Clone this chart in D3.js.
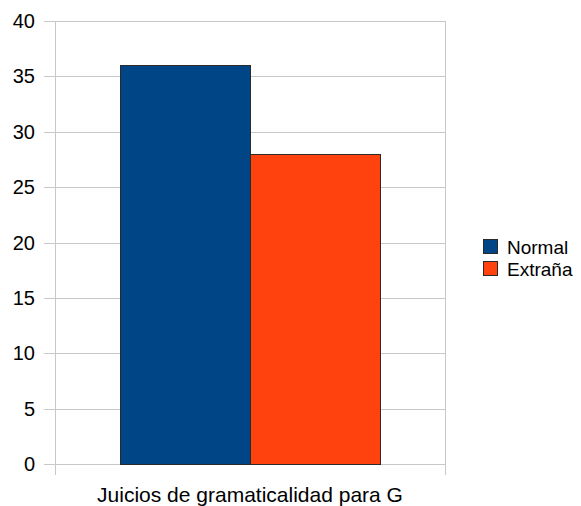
<!DOCTYPE html>
<html>
<head>
<meta charset="utf-8">
<script src="https://cdn.jsdelivr.net/npm/d3@7"></script>
<style>
  body { margin: 0; background: #fff; }
  text { font-family: "Liberation Sans", Arial, sans-serif; fill: #000; }
</style>
</head>
<body>
<div id="chart"></div>
<script>
// data
var categories = ["Juicios de gramaticalidad para G"];
var seriesNames = ["Normal", "Extraña"];
var seriesValues = [[36], [28]];
var colors = ["#004586", "#ff420e"];
var yTicks = [0, 5, 10, 15, 20, 25, 30, 35, 40];

var width = 581, height = 506;
var plotLeft = 55, plotRight = 445, plotTop = 21, plotBottom = 464;

var svg = d3.select("#chart").append("svg")
  .attr("width", width).attr("height", height);

var x = d3.scaleBand().domain(categories).range([plotLeft, plotRight]);
var xs = d3.scaleBand().domain(seriesNames)
  .range([0, x.bandwidth()]).paddingOuter(0.5).paddingInner(0);
var y = d3.scaleLinear().domain([0, 40]).range([plotBottom, plotTop]);

// gridlines
svg.append("g").selectAll("line").data(yTicks).enter().append("line")
  .attr("x1", plotLeft - 11).attr("x2", plotRight)
  .attr("y1", function(d){ return Math.round(y(d)) + 0.5; })
  .attr("y2", function(d){ return Math.round(y(d)) + 0.5; })
  .attr("stroke", "#c8c8c8").attr("stroke-width", 1);

// vertical axis lines / category boundaries
svg.append("g").selectAll("line").data([plotLeft, plotRight]).enter().append("line")
  .attr("x1", function(d){ return d + 0.5; }).attr("x2", function(d){ return d + 0.5; })
  .attr("y1", plotTop).attr("y2", plotBottom + 11)
  .attr("stroke", "#c8c8c8").attr("stroke-width", 1);

// y labels
svg.append("g").selectAll("text").data(yTicks).enter().append("text")
  .attr("x", 35).attr("y", function(d){ return y(d); })
  .attr("dy", "0.35em").attr("text-anchor", "end")
  .style("font-size", "20px").text(function(d){ return d; });

// bars
seriesNames.forEach(function(s, i) {
  svg.append("g").selectAll("rect").data(categories).enter().append("rect")
    .attr("x", function(c){ return Math.round(x(c) + xs(s)) + 0.5; })
    .attr("y", function(c, j){ return Math.round(y(seriesValues[i][j])) + 0.5; })
    .attr("width", Math.round(xs.bandwidth()))
    .attr("height", function(c, j){ return Math.round(y(0)) - Math.round(y(seriesValues[i][j])); })
    .attr("fill", colors[i]).attr("stroke", "#2a2a2a").attr("stroke-width", 1);
});

// category label
svg.append("g").selectAll("text").data(categories).enter().append("text")
  .attr("x", function(c){ return x(c) + x.bandwidth() / 2; })
  .attr("y", 502).attr("text-anchor", "middle")
  .style("font-size", "21px").text(function(c){ return c; });

// legend
var lg = svg.append("g").attr("transform", "translate(483,239)");
seriesNames.forEach(function(s, i) {
  lg.append("rect").attr("x", 0.5).attr("y", i * 22 + 0.5)
    .attr("width", 14).attr("height", 14)
    .attr("fill", colors[i]).attr("stroke", "#2a2a2a");
  lg.append("text").attr("x", 24).attr("y", i * 22 + 8.5).attr("dy", "0.35em")
    .style("font-size", "19px").text(s);
});
</script>
</body>
</html>
